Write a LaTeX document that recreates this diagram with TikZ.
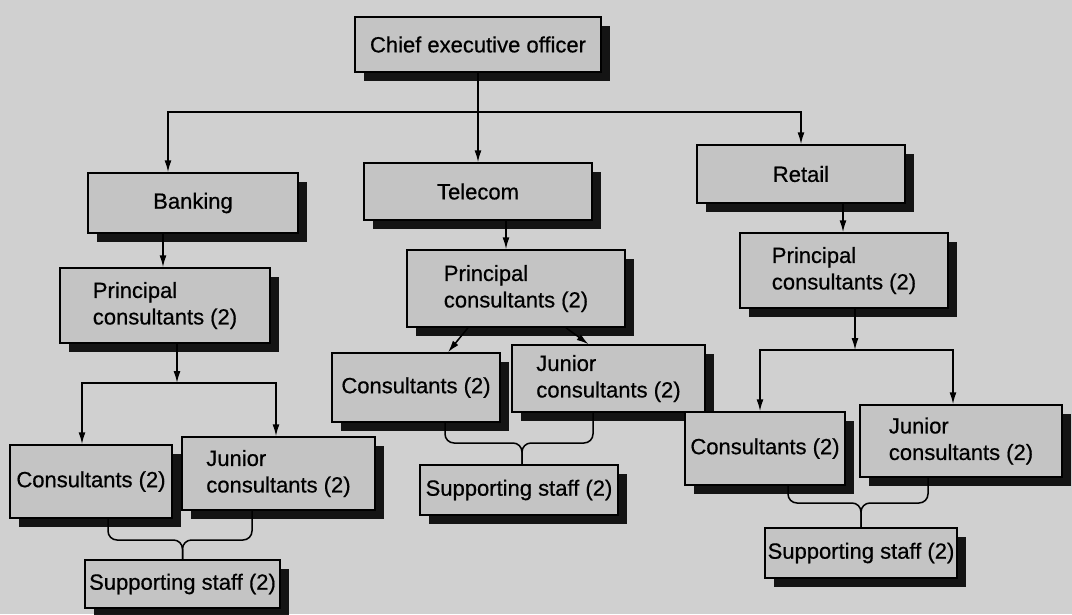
\documentclass[tikz,border=0pt]{standalone}
\usepackage{fontspec}
\setmainfont{Liberation Sans}[FakeBold=0.6]
\usetikzlibrary{arrows.meta,shadows}
\definecolor{bgc}{RGB}{208,208,208}
\definecolor{boxc}{RGB}{196,196,196}
\pgfdeclarelayer{back}
\pgfdeclarelayer{lines}
\pgfsetlayers{back,lines,main}
\begin{document}
\begin{tikzpicture}[x=1pt,y=-1pt,
  box/.style={draw=black,line width=1.5pt,fill=boxc,inner sep=0pt,align=left,
    font=\fontsize{22}{26.5}\selectfont,
    drop shadow={shadow xshift=9pt,shadow yshift=-9pt,fill=black,opacity=0.9}},
  conn/.style={line width=1.5pt},
  arr/.style={conn,-{Latex[length=12pt,width=7pt]}},
  brace/.style={conn,rounded corners=9pt}]
\begin{pgfonlayer}{back}
\fill[bgc] (0,0) rectangle (1072,614);
\end{pgfonlayer}
\useasboundingbox (0,0) rectangle (1072,614);

% level 0 and 1
\node[box,minimum width=246,minimum height=55] (ceo) at (478,44.5) {Chief executive officer};
\node[box,minimum width=210,minimum height=60] (banking) at (193,203) {Banking};
\node[box,minimum width=228,minimum height=57] (telecom) at (478,191.5) {Telecom};
\node[box,minimum width=208,minimum height=58] (retail) at (801,174) {Retail};

% principal consultants
\node[box,minimum width=210,minimum height=75] (bkp) at (165,305.5) {Principal\\consultants (2)};
\node[box,minimum width=218,minimum height=77] (tcp) at (516,288.5) {Principal\\consultants (2)};
\node[box,minimum width=208,minimum height=75] (rtp) at (844,270.5) {Principal\\consultants (2)};

% consultants and junior consultants
\node[box,minimum width=162,minimum height=73] (bkc) at (91,481.5) {Consultants (2)};
\node[box,minimum width=193,minimum height=73] (bkj) at (278.5,473.5) {Junior\\consultants (2)};
\node[box,minimum width=168,minimum height=69] (tcc) at (416,387.5) {Consultants (2)};
\node[box,minimum width=193,minimum height=67] (tcj) at (608.5,378.5) {Junior\\consultants (2)};
\node[box,minimum width=160,minimum height=73] (rtc) at (765,448.5) {Consultants (2)};
\node[box,minimum width=202,minimum height=72] (rtj) at (961,441) {Junior\\consultants (2)};

% supporting staff
\node[box,minimum width=195,minimum height=48] (bks) at (182.5,584) {Supporting staff (2)};
\node[box,minimum width=198,minimum height=50] (tcs) at (519,490) {Supporting staff (2)};
\node[box,minimum width=192,minimum height=50] (rts) at (861,553) {Supporting staff (2)};

% junction coordinates
\coordinate (bus) at (478,112);
\coordinate (bkbus) at (177,383);
\coordinate (rtbus) at (855,350);
\coordinate (bkjn) at (182.5,540);
\coordinate (tcjn) at (522,443);
\coordinate (rtjn) at (861,503);

\begin{pgfonlayer}{lines}
% CEO to divisions
\draw[arr] (ceo.south) -- (telecom.north);
\draw[arr] (bus) -| ([xshift=-25]banking.north);
\draw[arr] (bus) -| (retail.north);
% divisions to principals
\draw[arr] ([xshift=-30]banking.south) -- ([xshift=-2]bkp.north);
\draw[arr] ([xshift=28]telecom.south) -- ([xshift=-10]tcp.north);
\draw[arr] ([xshift=42]retail.south) -- ([xshift=-1]rtp.north);
% banking principals to consultants
\draw[arr] ([xshift=12]bkp.south) -- (bkbus);
\draw[arr] (bkbus) -| ([xshift=-9]bkc.north);
\draw[arr] (bkbus) -| ([xshift=-2.5]bkj.north);
% telecom principals to consultants
\draw[arr] ([xshift=-48]tcp.south) -- ([xshift=32]tcc.north);
\draw[arr] ([xshift=50]tcp.south) -- ([xshift=-20]tcj.north);
% retail principals to consultants
\draw[arr] ([xshift=11]rtp.south) -- (rtbus);
\draw[arr] (rtbus) -| ([xshift=-5]rtc.north);
\draw[arr] (rtbus) -| ([xshift=-8]rtj.north);
% braces to supporting staff
\draw[brace] ([xshift=17]bkc.south) |- (bkjn) -- (bks.north);
\draw[brace] ([xshift=-26.5]bkj.south) |- (bkjn) -- (bks.north);
\draw[brace] ([xshift=29]tcc.south) |- (tcjn) -- ([xshift=3]tcs.north);
\draw[brace] ([xshift=-15.5]tcj.south) |- (tcjn) -- ([xshift=3]tcs.north);
\draw[brace] ([xshift=23]rtc.south) |- (rtjn) -- (rts.north);
\draw[brace] ([xshift=-33]rtj.south) |- (rtjn) -- (rts.north);
\end{pgfonlayer}
\end{tikzpicture}
\end{document}
